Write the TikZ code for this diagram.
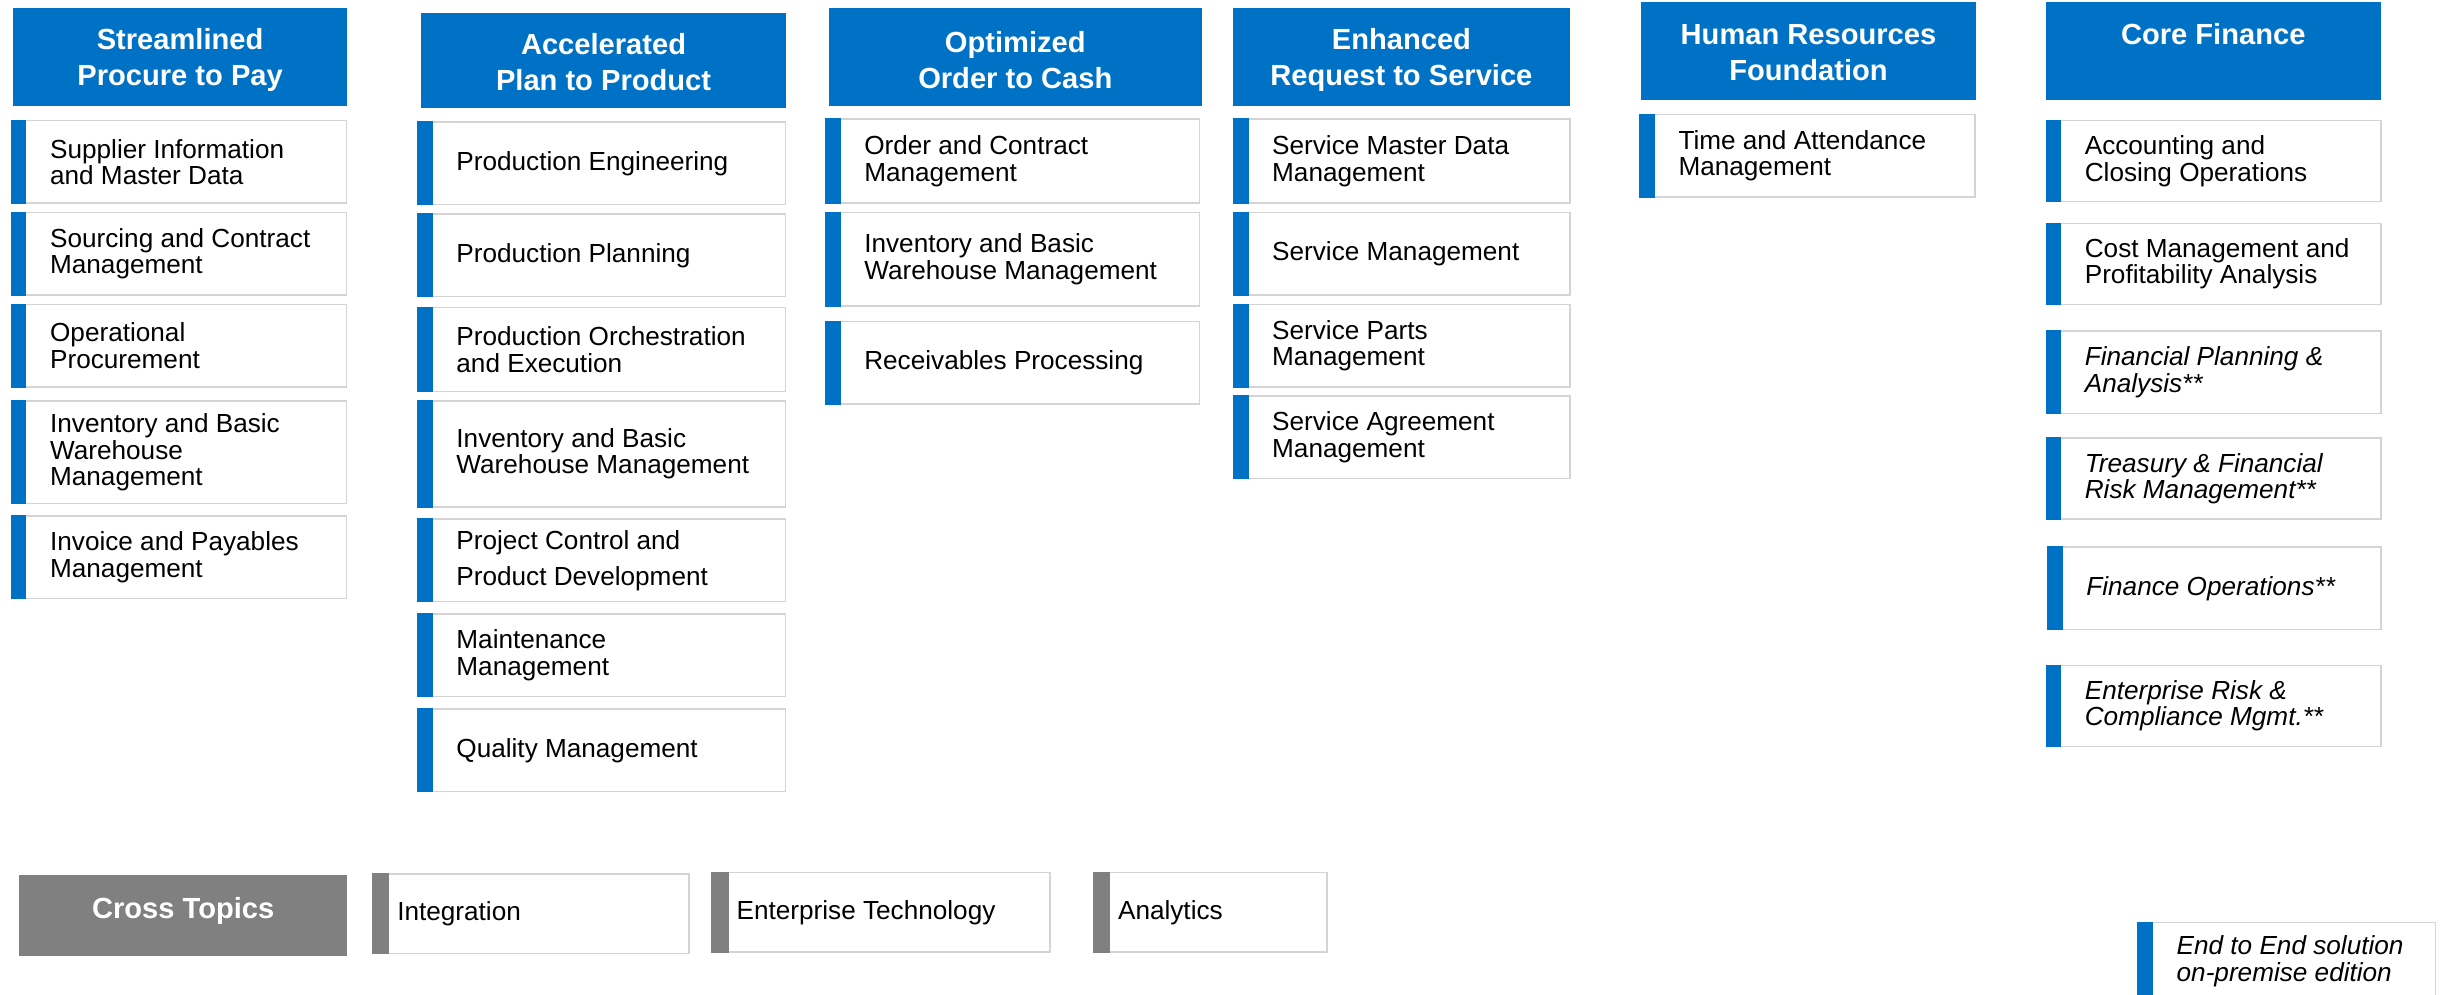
\documentclass[tikz,border=0pt]{standalone}
\usepackage{fontspec}
\setmainfont{Liberation Sans}
\usetikzlibrary{positioning}
\definecolor{sapblue}{RGB}{0,114,198}
\definecolor{topicgray}{RGB}{128,128,128}
\definecolor{boxline}{RGB}{212,212,212}
\newcommand{\headbox}[8][sapblue]{%
\node[headbox, fill=#1, minimum width=#5pt, minimum height=#6pt] (#2) at (#3,-#4) {};
\node[headtext] (#2txt) at ([yshift=#8pt]#2.center) {#7};}
\newcommand{\solbox}[6]{%
\node[itembox, minimum width=#4pt, minimum height=#5pt] (#1) at (#2,-#3) {};
\fill[sapblue] (#1.north west) rectangle ([xshift=10pt]#1.south west);
\node[itemtext, right=25pt of #1.west] (#1txt) {#6};}
\newcommand{\topicbox}[6]{%
\node[itembox, minimum width=#4pt, minimum height=#5pt] (#1) at (#2,-#3) {};
\fill[topicgray] (#1.north west) rectangle ([xshift=11pt]#1.south west);
\node[itemtext, right=16pt of #1.west] (#1txt) {#6};}

\begin{document}
\begin{tikzpicture}[x=1pt,y=1pt,
headbox/.style={inner sep=0pt, anchor=north west},
headtext/.style={text=white, font=\bfseries\fontsize{18.7}{23}\selectfont, align=center, inner sep=0pt},
itembox/.style={draw=boxline, line width=1pt, fill=white, inner sep=0pt, anchor=north west},
itemtext/.style={font=\fontsize{16.8}{17}\selectfont, align=left, inner sep=0pt, anchor=west}]
\useasboundingbox (0,0) rectangle (1568,-639);

\headbox{ptp}{8}{5}{215}{63}{Streamlined\\Procure to Pay}{-2}
\headbox{ptd}{270}{8}{235}{61}{Accelerated\\Plan to Product}{-1}
\headbox{otc}{532}{5}{240}{63}{Optimized\\Order to Cash}{-2}
\headbox{rts}{792}{5}{216}{63}{Enhanced\\Request to Service}{-2}
\headbox{hrf}{1054}{1}{215}{63}{Human Resources\\Foundation}{-1}
\headbox{fin}{1314}{1}{215}{63}{Core Finance\\\phantom{Finance}}{-1}

\solbox{sup}{7}{77}{215}{53}{Supplier Information\\and Master Data}
\solbox{src}{7}{136}{215}{53}{Sourcing and Contract\\Management}
\solbox{opr}{7}{195}{215}{53}{Operational\\Procurement}
\solbox{invA}{7}{257}{215}{66}{Inventory and Basic\\Warehouse\\Management}
\solbox{ivp}{7}{331}{215}{53}{Invoice and Payables\\Management}

\solbox{peng}{268}{78}{236}{53}{Production Engineering}
\solbox{pplan}{268}{137}{236}{53}{Production Planning}
\solbox{porch}{268}{197}{236}{54}{Production Orchestration\\and Execution}
\solbox{invB}{268}{257}{236}{68}{Inventory and Basic\\Warehouse Management}
\solbox{pctl}{268}{333}{236}{53}{Project Control and\\[6pt]Product Development}
\solbox{mnt}{268}{394}{236}{53}{Maintenance\\Management}
\solbox{qm}{268}{455}{236}{53}{Quality Management}

\solbox{occ}{530}{76}{240}{54}{Order and Contract\\Management}
\solbox{invC}{530}{136}{240}{60}{Inventory and Basic\\Warehouse Management}
\solbox{rcv}{530}{206}{240}{53}{Receivables Processing}

\solbox{smd}{792}{76}{216}{54}{Service Master Data\\Management}
\solbox{smg}{792}{136}{216}{53}{Service Management}
\solbox{spm}{792}{195}{216}{53}{Service Parts\\Management}
\solbox{sag}{792}{254}{216}{53}{Service Agreement\\Management}

\solbox{tam}{1053}{73}{215}{53}{Time and Attendance\\Management}

\solbox{aco}{1314}{77}{215}{52}{Accounting and\\Closing Operations}
\solbox{cmpa}{1314}{143}{215}{52}{Cost Management and\\Profitability Analysis}
\solbox{fpa}{1314}{212}{215}{53}{\itshape Financial Planning \&\\\itshape Analysis**}
\solbox{trm}{1314}{281}{215}{52}{\itshape Treasury \& Financial\\\itshape Risk Management**}
\solbox{fop}{1315}{351}{214}{53}{\itshape Finance Operations**}
\solbox{erc}{1314}{427}{215}{52}{\itshape Enterprise Risk \&\\\itshape Compliance Mgmt.**}

\headbox[topicgray]{cross}{12}{562}{211}{52}{Cross Topics}{3}
\topicbox{integ}{239}{561}{203}{51}{Integration}
\topicbox{etech}{457}{560}{217}{51}{Enterprise Technology}
\topicbox{anly}{702}{560}{150}{51}{Analytics}

\solbox{legend}{1373}{592}{191}{50}{\itshape End to End solution\\\itshape on-premise edition}
\end{tikzpicture}
\end{document}
